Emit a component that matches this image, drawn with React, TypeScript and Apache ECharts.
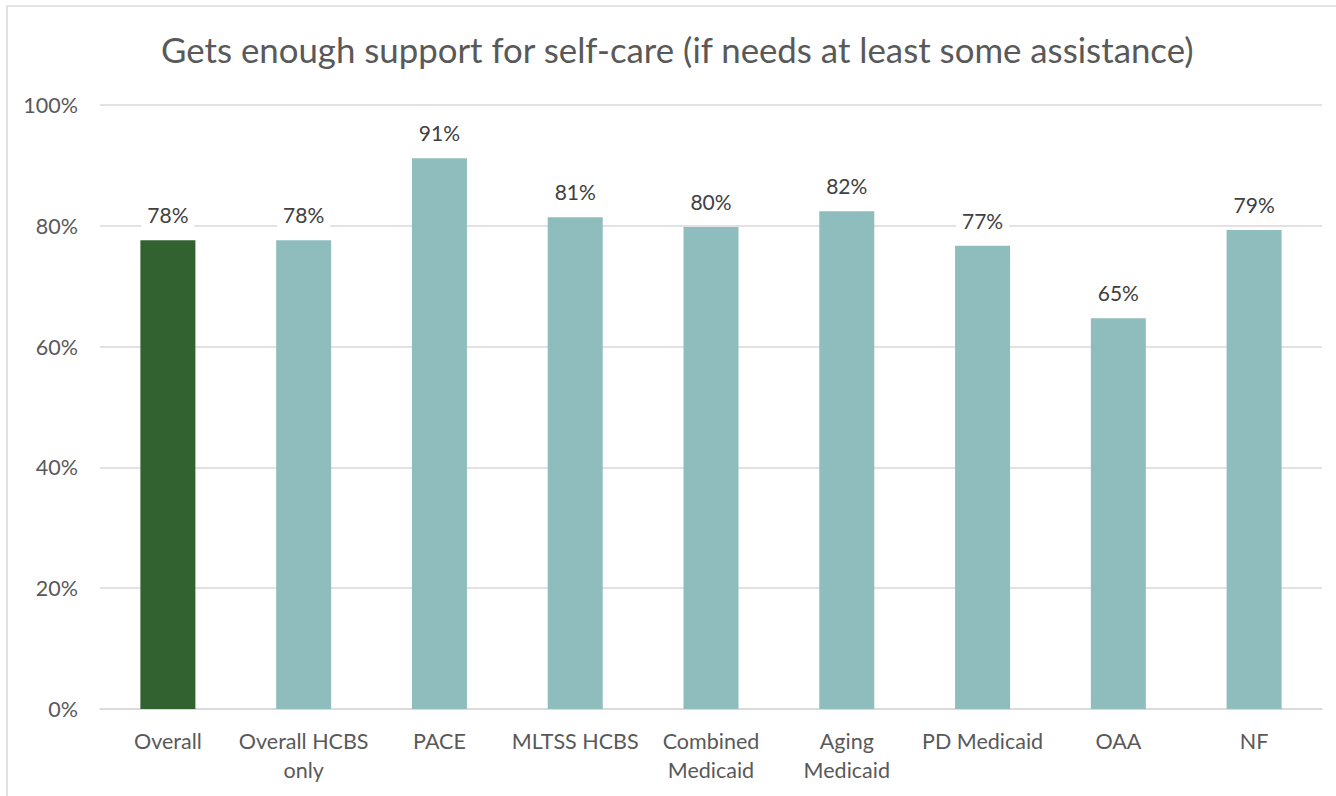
import React, { useEffect, useRef } from "react";
import * as echarts from "echarts";

const titleText = "Gets enough support for self-care (if needs at least some assistance)";
const categories = [
  "Overall",
  "Overall HCBS\nonly",
  "PACE",
  "MLTSS HCBS",
  "Combined\nMedicaid",
  "Aging\nMedicaid",
  "PD Medicaid",
  "OAA",
  "NF",
];
const values = [77.6, 77.6, 91.2, 81.4, 79.8, 82.4, 76.7, 64.7, 79.3];
const highlightIndex = 0;
const highlightColor = "#31622f";
const baseColor = "#8fbdbd";
const FONT = "Lato";

export default function App() {
  const ref = useRef<HTMLDivElement>(null);
  useEffect(() => {
    if (!ref.current) return;
    const chart = echarts.init(ref.current, undefined, { renderer: "svg" });
    chart.setOption({
      animation: false,
      backgroundColor: "#ffffff",
      textStyle: { fontFamily: FONT },
      title: {
        text: titleText,
        left: 161,
        top: 32,
        padding: 0,
        textStyle: { fontFamily: FONT, fontSize: 34.8, fontWeight: "normal", color: "#595959" },
      },
      graphic: [
        {
          type: "rect",
          shape: { x: 7, y: 6, width: 1400, height: 900 },
          style: { fill: "none", stroke: "#d9d9d9", lineWidth: 1.5 },
          silent: true,
        },
      ],
      grid: { left: 100, right: 14, top: 105, bottom: 87, containLabel: false },
      xAxis: {
        type: "category",
        data: categories,
        axisLine: { lineStyle: { color: "#d9d9d9", width: 1.5 } },
        axisTick: { show: false },
        axisLabel: {
          color: "#595959",
          fontSize: 21.5,
          fontFamily: FONT,
          margin: 17,
          lineHeight: 29,
          interval: 0,
        },
      },
      yAxis: {
        type: "value",
        min: 0,
        max: 100,
        interval: 20,
        axisLine: { show: false },
        axisTick: { show: false },
        splitLine: { lineStyle: { color: "#d9d9d9", width: 1.5 } },
        axisLabel: {
          formatter: "{value}%",
          color: "#595959",
          fontSize: 21.5,
          fontFamily: FONT,
          margin: 22,
        },
      },
      series: [
        {
          type: "bar",
          barWidth: 55,
          data: values.map((v, i) => ({
            value: v,
            itemStyle: { color: i === highlightIndex ? highlightColor : baseColor },
          })),
          label: {
            show: true,
            position: "top",
            distance: 13,
            formatter: (p: any) => Math.round(p.value) + "%",
            color: "#404040",
            fontSize: 21,
            fontFamily: FONT,
            backgroundColor: "#ffffff",
            padding: [2, 6],
          },
        },
      ],
    });
    return () => chart.dispose();
  }, []);
  return (
    <div
      ref={ref}
      style={{ position: "fixed", left: 0, top: 0, width: 1336, height: 796 }}
    />
  );
}
